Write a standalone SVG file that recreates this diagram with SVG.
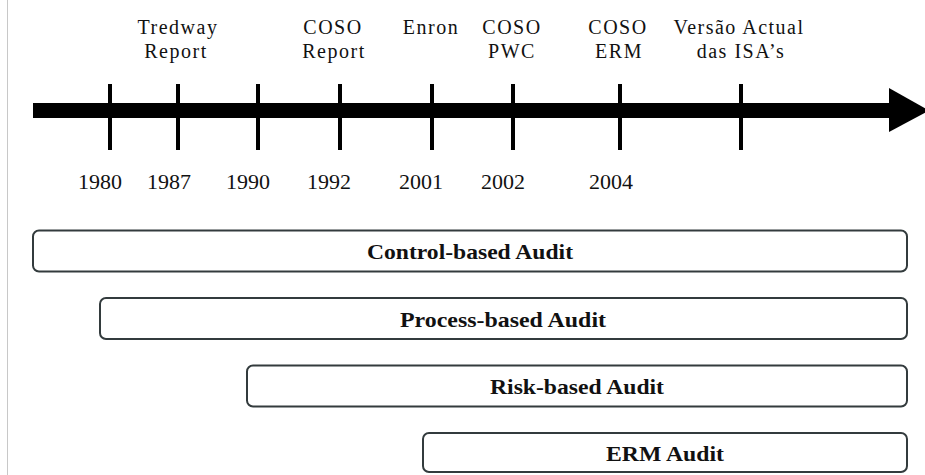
<svg xmlns="http://www.w3.org/2000/svg" width="925" height="475" viewBox="0 0 925 475">
<style>
text{font-family:"Liberation Serif","Times New Roman",serif;fill:#111;text-anchor:middle}
.lbl{font-size:20px;letter-spacing:1.5px}
.yr{font-size:22px}
.tick{stroke:#000;stroke-width:4}
.box{fill:#fff;stroke:#333b3d;stroke-width:2}
.bt{font-size:22px;font-weight:bold}
</style>
<rect width="925" height="475" fill="#fff"/>
<line x1="7.5" y1="0" x2="7.5" y2="475" stroke="#c8c8c8" stroke-width="1"/>
<g id="axis">
<rect x="33" y="103" width="858" height="15" fill="#000"/>
<polygon points="889,88 929,110.5 889,132" fill="#000"/>
</g>
<g id="connectors">
<line class="tick" x1="110" y1="84" x2="110" y2="150"/>
<line class="tick" x1="178" y1="84" x2="178" y2="150"/>
<line class="tick" x1="258" y1="84" x2="258" y2="150"/>
<line class="tick" x1="340" y1="84" x2="340" y2="150"/>
<line class="tick" x1="432" y1="84" x2="432" y2="150"/>
<line class="tick" x1="513" y1="84" x2="513" y2="150"/>
<line class="tick" x1="620" y1="84" x2="620" y2="150"/>
<line class="tick" x1="741" y1="84" x2="741" y2="150"/>
</g>
<g id="events">
<text class="lbl" x="178" y="34">Tredway</text>
<text class="lbl" x="176" y="58">Report</text>
<text class="lbl" x="333" y="34">COSO</text>
<text class="lbl" x="334" y="58">Report</text>
<text class="lbl" x="431" y="34">Enron</text>
<text class="lbl" x="512" y="34">COSO</text>
<text class="lbl" x="512" y="58">PWC</text>
<text class="lbl" x="618" y="34">COSO</text>
<text class="lbl" x="619" y="58">ERM</text>
<text class="lbl" x="739" y="34">Versão Actual</text>
<text class="lbl" x="741" y="58">das ISA’s</text>
</g>
<g id="years">
<text class="yr" x="100" y="189">1980</text>
<text class="yr" x="169" y="189">1987</text>
<text class="yr" x="248" y="189">1990</text>
<text class="yr" x="329" y="189">1992</text>
<text class="yr" x="421" y="189">2001</text>
<text class="yr" x="503" y="189">2002</text>
<text class="yr" x="611" y="189">2004</text>
</g>
<g id="control-based">
<rect class="box" x="33" y="230.5" width="874" height="41" rx="6"/>
<text class="bt" x="470" y="259" textLength="206" lengthAdjust="spacingAndGlyphs">Control-based Audit</text>
</g>
<g id="process-based">
<rect class="box" x="100" y="298" width="807" height="41" rx="6"/>
<text class="bt" x="503" y="327" textLength="206" lengthAdjust="spacingAndGlyphs">Process-based Audit</text>
</g>
<g id="risk-based">
<rect class="box" x="247" y="365.5" width="660" height="41" rx="6"/>
<text class="bt" x="577" y="394" textLength="174" lengthAdjust="spacingAndGlyphs">Risk-based Audit</text>
</g>
<g id="erm">
<rect class="box" x="423" y="433" width="484" height="39" rx="6"/>
<text class="bt" x="665" y="461" textLength="118" lengthAdjust="spacingAndGlyphs">ERM Audit</text>
</g>
</svg>
